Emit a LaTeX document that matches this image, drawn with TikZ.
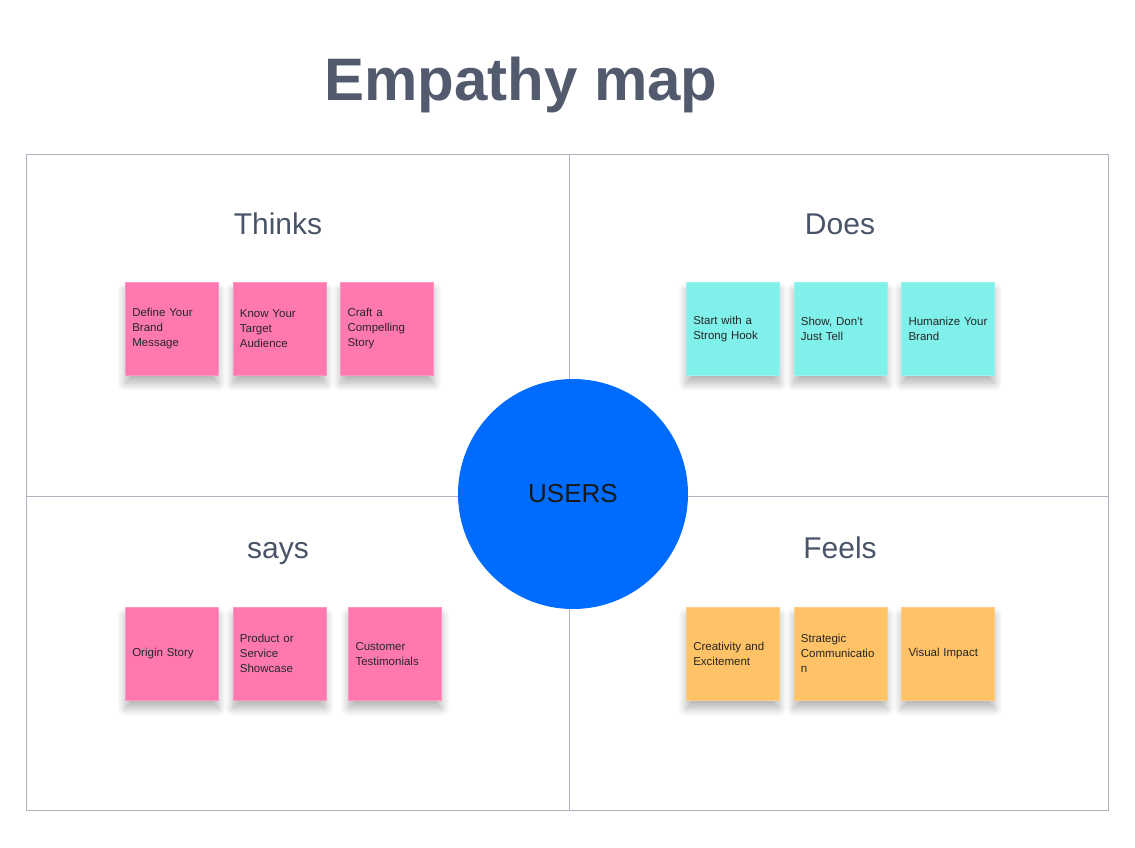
\documentclass[tikz,border=0pt]{standalone}
\usepackage{fontspec}
\setmainfont{Liberation Sans}
\usetikzlibrary{positioning,shadows.blur}

\definecolor{titlegray}{HTML}{525B6E}
\definecolor{headgray}{HTML}{4A5468}
\definecolor{framegray}{HTML}{AEB1BF}
\definecolor{notepink}{HTML}{FF79B0}
\definecolor{notecyan}{HTML}{80F0EB}
\definecolor{noteorange}{HTML}{FFC266}
\definecolor{userblue}{HTML}{006CFF}

\begin{document}
\begin{tikzpicture}[x=1pt, y=-1pt,
        note/.style={rectangle, text width=79pt, minimum height=93pt, inner sep=7pt, align=left,
            font=\fontsize{11.5}{15}\selectfont, text=black!85,
            blur shadow={shadow xshift=0pt, shadow yshift=-8pt, shadow blur radius=8pt,
                shadow blur steps=10, shadow opacity=30}},
        thinks/.style={note, fill=notepink, draw=notepink!80!white, line width=0.6pt},
        does/.style={note, fill=notecyan, draw=notecyan!80!white, line width=0.6pt},
        feels/.style={note, fill=noteorange, draw=noteorange!80!white, line width=0.6pt},
        heading/.style={anchor=base, text=headgray, font=\fontsize{30}{36}\selectfont},
        frame/.style={draw=framegray, line width=1pt}]
    \useasboundingbox (0,0) rectangle (1135,847);

    \node [anchor=base, text=titlegray, font=\fontsize{60}{70}\bfseries] (title) at (521,100) {Empathy map};

    % quadrants
    \draw [frame] (26,154) rectangle (1108,810);
    \draw [frame] (569,154) -- (569,810);
    \draw [frame] (26,496) -- (1108,496);

    \node [heading] (thinkslabel) at (278,234) {Thinks};
    \node [heading] (doeslabel) at (840,234) {Does};
    \node [heading] (sayslabel) at (278,558) {says};
    \node [heading] (feelslabel) at (840,558) {Feels};

    % thinks
    \node [thinks, anchor=north west] (brand) at (125,282) {Define Your\\Brand\\Message};
    \node [thinks, right=14pt of brand] (audience) {Know Your\\Target\\Audience};
    \node [thinks, right=14pt of audience] (story) {Craft a\\Compelling\\Story};

    % does
    \node [does, anchor=north west] (hook) at (686,282) {Start with a\\Strong Hook};
    \node [does, right=14pt of hook] (show) {Show, Don't\\Just Tell};
    \node [does, right=14pt of show] (humanize) {Humanize Your\\Brand};

    % says
    \node [thinks, anchor=north west] (origin) at (125,607) {Origin Story};
    \node [thinks, right=14pt of origin] (product) {Product or\\Service\\Showcase};
    \node [thinks, right=22pt of product] (testimonials) {Customer\\Testimonials};

    % feels
    \node [feels, anchor=north west] (creativity) at (686,607) {Creativity and\\Excitement};
    \node [feels, right=14pt of creativity] (strategic) {Strategic\\Communicatio\\n};
    \node [feels, right=14pt of strategic] (visual) {Visual Impact};

    \node [circle, fill=userblue, minimum size=230pt, inner sep=0pt, text=black!90,
        font=\fontsize{26}{30}\selectfont] (users) at (573,494) {USERS};
\end{tikzpicture}
\end{document}
